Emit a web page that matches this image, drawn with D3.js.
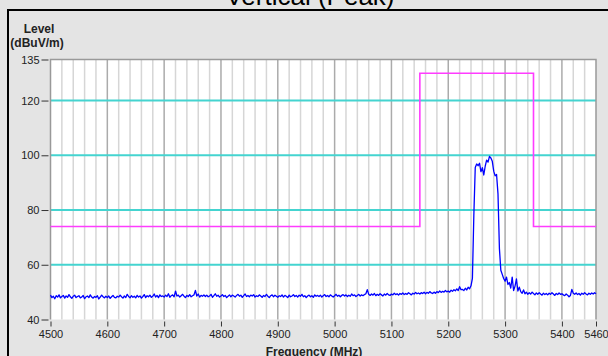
<!DOCTYPE html>
<html><head><meta charset="utf-8">
<script src="https://cdn.jsdelivr.net/npm/d3@7"></script>
<style>html,body{margin:0;padding:0;background:#e4e4e4;overflow:hidden}svg{display:block}</style>
</head><body>
<script>
// ---- data ----
const title = "Vertical (Peak)";
const yLabel1 = "Level";
const yLabel2 = "(dBuV/m)";
const xLabel = "Frequency (MHz)";
const yTicks = [40, 60, 80, 100, 120, 135];
const xTicks = [4500, 4600, 4700, 4800, 4900, 5000, 5100, 5200, 5300, 5400, 5460];
const hGrid = [60, 80, 100, 120];
const freqStart = 4500, freqStep = 2.5;
const level = [
48.9,48.0,48.5,47.6,48.7,48.2,49.0,47.9,48.4,48.8,
47.8,48.6,48.1,49.1,48.3,47.7,48.5,48.9,48.0,48.4,
48.7,47.9,48.2,48.8,47.6,48.3,48.6,48.0,49.0,48.2,
47.8,48.4,48.1,48.7,47.5,48.2,48.9,48.3,47.9,48.5,
48.0,48.6,47.7,48.3,48.8,48.1,47.9,48.5,48.2,48.9,
48.3,47.8,48.6,48.0,49.2,48.4,47.9,48.7,48.1,48.5,
47.9,48.8,48.2,48.6,47.8,48.4,49.1,48.0,48.7,48.3,
48.9,48.1,48.5,49.3,48.2,48.8,48.0,49.0,48.4,48.6,
48.2,48.9,48.4,49.4,48.1,48.7,49.0,48.3,50.4,48.6,
48.9,48.2,48.7,49.2,48.5,48.0,48.8,48.4,49.1,48.3,
48.7,49.0,50.6,48.6,49.3,48.2,48.8,48.5,49.0,48.4,
48.9,48.3,48.6,49.2,48.1,48.7,49.4,48.5,48.9,48.2,
48.6,49.1,48.4,48.8,48.0,48.5,49.0,48.3,48.9,48.6,
48.2,48.8,49.2,48.5,48.9,48.1,48.7,49.3,48.4,48.8,
48.3,48.9,48.6,49.1,48.2,48.7,48.4,49.0,48.6,48.1,
48.8,48.4,49.2,48.5,48.0,48.7,49.0,48.3,48.9,48.5,
48.1,48.7,48.4,49.0,48.2,48.8,48.5,48.0,48.9,48.3,
48.6,49.1,48.4,48.8,48.2,48.9,48.5,49.2,48.3,48.7,
48.0,48.6,48.9,48.3,48.7,48.1,49.0,48.5,48.8,48.4,
48.9,48.2,48.7,49.1,48.4,48.8,48.3,49.0,48.6,48.2,
48.7,49.2,48.5,48.9,48.3,48.8,49.1,48.6,49.0,48.4,
48.9,48.5,49.3,48.7,49.0,48.4,48.8,49.2,48.6,49.0,
48.7,49.1,49.4,50.9,49.2,48.8,49.3,48.9,49.5,48.7,
49.2,48.8,49.4,49.0,48.6,49.3,48.9,49.5,49.0,48.8,
49.3,49.0,49.6,49.1,49.4,48.9,49.5,49.2,49.7,49.1,
49.5,49.2,49.8,49.4,49.0,49.6,49.3,49.9,49.4,49.7,
49.3,49.8,49.5,50.0,49.4,49.9,49.6,50.2,49.7,49.5,
50.0,49.6,50.2,49.8,50.4,49.9,50.3,50.0,50.6,50.1,
50.4,50.0,50.7,50.3,50.9,50.5,51.2,50.6,52.0,50.9,
51.0,50.6,51.4,50.8,51.8,51.2,52.3,55.0,78.0,95.5,
96.8,96.2,97.1,94.0,95.5,92.8,96.0,98.2,97.5,99.6,
99.0,97.8,94.2,92.5,93.0,86.0,66.0,58.0,56.5,55.0,
54.0,55.5,52.8,53.5,51.5,55.5,50.6,52.2,54.8,50.4,
51.8,50.2,49.6,50.8,49.4,50.0,49.2,49.8,49.3,50.0,
49.5,49.0,49.7,49.2,49.8,49.3,48.9,49.6,49.1,49.5,
49.0,49.6,49.2,49.8,49.3,48.8,49.5,49.1,49.7,49.2,
49.4,49.0,48.7,49.3,48.9,48.3,48.8,51.0,49.6,49.2,
49.7,49.1,49.5,48.9,49.6,49.2,49.8,49.3,49.0,49.6,
49.2,49.7,49.3,49.8,49.4
];
const limitFreq = [4500, 5150, 5150, 5350, 5350, 5460];
const limitLevel = [74, 74, 130, 130, 74, 74];

// ---- drawing ----
const W = 608, H = 356;
const L = 50.5, R = 596, T = 59.5, B = 319.5;
const svg = d3.select("body").append("svg").attr("width", W).attr("height", H);
svg.append("rect").attr("width", W).attr("height", H).attr("fill", "#e4e4e4");

// frame
svg.append("line").attr("x1", 7).attr("x2", W).attr("y1", 10).attr("y2", 10).attr("stroke", "#000").attr("stroke-width", 2);
svg.append("line").attr("x1", 8).attr("x2", 8).attr("y1", 10).attr("y2", H).attr("stroke", "#000").attr("stroke-width", 2);

svg.append("text").attr("x", 310).attr("y", 5).attr("text-anchor", "middle")
  .attr("font-family", "Liberation Sans, Arial, sans-serif").attr("font-size", 26).attr("fill", "#000").text(title);

const x = d3.scaleLinear().domain([4500, 5460]).range([L, R]);
const y = d3.scaleLinear().domain([40, 135]).range([B, T]);

svg.append("rect").attr("x", L).attr("y", T).attr("width", R - L).attr("height", B - T).attr("fill", "#fff");

// vertical grid
const minor = d3.range(4520, 5460, 20).filter(f => f % 100 !== 0);
svg.append("g").selectAll("line").data(minor).join("line")
  .attr("x1", d => x(d)).attr("x2", d => x(d)).attr("y1", T).attr("y2", B)
  .attr("stroke", "#d6d6d6").attr("stroke-width", 1.5);
const major = xTicks.filter(f => f !== 4500 && f !== 5460);
svg.append("g").selectAll("line").data(major).join("line")
  .attr("x1", d => x(d)).attr("x2", d => x(d)).attr("y1", T).attr("y2", B)
  .attr("stroke", "#ababab").attr("stroke-width", 1.5);

// horizontal cyan grid
svg.append("g").selectAll("line").data(hGrid).join("line")
  .attr("x1", L).attr("x2", R).attr("y1", d => y(d)).attr("y2", d => y(d))
  .attr("stroke", "#44d4d0").attr("stroke-width", 2);

// border
svg.append("path").attr("d", `M${L},${B}V${T}H${R}V${B}`).attr("fill", "none").attr("stroke", "#999").attr("stroke-width", 1.5);

// limit line
const lim = limitFreq.map((f, i) => [f, limitLevel[i]]);
svg.append("path").datum(lim).attr("fill", "none").attr("stroke", "#ff3cff").attr("stroke-width", 1.6)
  .attr("d", d3.line().x(d => x(d[0])).y(d => y(d[1])));

// trace
const trace = level.map((v, i) => [freqStart + i * freqStep, v]);
svg.append("path").datum(trace).attr("fill", "none").attr("stroke", "#0000ff").attr("stroke-width", 1.3)
  .attr("stroke-linejoin", "round")
  .attr("d", d3.line().x(d => x(d[0])).y(d => y(d[1])));

// axes
const font = "Liberation Sans, Arial, sans-serif";
const yAxis = d3.axisLeft(y).tickValues(yTicks).tickSize(7).tickPadding(2).tickFormat(d3.format("d"));
const gy = svg.append("g").attr("transform", `translate(${L - 2},0)`).call(yAxis);
gy.select(".domain").remove();
gy.selectAll("line").attr("stroke", "#333");
gy.selectAll("text").attr("font-family", font).attr("font-size", 11).attr("fill", "#222");

const xAxis = d3.axisBottom(x).tickValues(xTicks).tickSize(5).tickPadding(4).tickFormat(d3.format("d"));
const gx = svg.append("g").attr("transform", `translate(0,${B + 2})`).call(xAxis);
gx.select(".domain").remove();
gx.selectAll("line").attr("stroke", "#333");
gx.selectAll("text").attr("font-family", font).attr("font-size", 11).attr("fill", "#222");

svg.append("text").attr("x", 39).attr("y", 33).attr("text-anchor", "middle").attr("font-family", font)
  .attr("font-weight", "bold").attr("font-size", 12).attr("fill", "#222").text(yLabel1);
svg.append("text").attr("x", 37).attr("y", 47).attr("text-anchor", "middle").attr("font-family", font)
  .attr("font-weight", "bold").attr("font-size", 12).attr("fill", "#222").text(yLabel2);
svg.append("text").attr("x", 314).attr("y", 356).attr("text-anchor", "middle").attr("font-family", font)
  .attr("font-weight", "bold").attr("font-size", 12).attr("fill", "#222").text(xLabel);
</script>
</body></html>
